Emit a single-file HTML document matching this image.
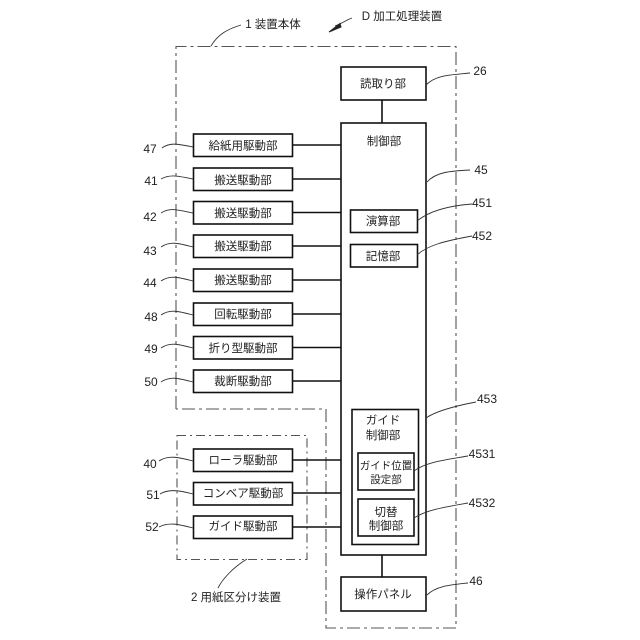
<!DOCTYPE html>
<html><head><meta charset="utf-8"><style>
html,body{margin:0;padding:0;background:#fff}
svg{display:block}
text{font-family:"Liberation Sans","Noto Sans CJK JP",sans-serif;font-size:11.5px;fill:#222;text-anchor:middle}
.n{font-size:12px}
.s{font-size:10.5px}
.b{fill:#fff;stroke:#111;stroke-width:1.6}
.l{fill:none;stroke:#111;stroke-width:1.6}
.c{fill:none;stroke:#333;stroke-width:.9}
</style></head><body>
<svg width="640" height="640" viewBox="0 0 640 640" xmlns="http://www.w3.org/2000/svg">
<path d="M176 409V46.500H456V628H326V409H176" fill="none" stroke="#555" stroke-width="1.100" stroke-dasharray="13 4 3 4"/>
<rect x="177" y="435.500" width="130" height="124" fill="none" stroke="#555" stroke-width="1.100" stroke-dasharray="9 4 2 4"/>
<path class="l" d="M292 145H341M292 179H341M292 212.500H341M292 246H341M292 280H341M292 314H341M292 347.500H341M292 381H341M292 460H341M292 493H341M292 527H341M382 100V123M382 555V577"/>
<rect class="b" x="341" y="67" width="85" height="33"/>
<rect class="b" x="341" y="123" width="85" height="432"/>
<rect class="b" x="341" y="577" width="85" height="34"/>
<rect class="b" x="193.500" y="134" width="99" height="22.500"/>
<rect class="b" x="193.500" y="168" width="99" height="22.500"/>
<rect class="b" x="193.500" y="201.500" width="99" height="22.500"/>
<rect class="b" x="193.500" y="235" width="99" height="22.500"/>
<rect class="b" x="193.500" y="269" width="99" height="22.500"/>
<rect class="b" x="193.500" y="303" width="99" height="22.500"/>
<rect class="b" x="193.500" y="336.500" width="99" height="22.500"/>
<rect class="b" x="193.500" y="370" width="99" height="22.500"/>
<rect class="b" x="193.500" y="449" width="99" height="22.500"/>
<rect class="b" x="193.500" y="482.500" width="99" height="22.500"/>
<rect class="b" x="193.500" y="516" width="99" height="22.500"/>
<rect class="b" x="350.500" y="210" width="67" height="22.500"/>
<rect class="b" x="350.500" y="244.500" width="67" height="22.500"/>
<rect class="b" x="352" y="409.500" width="66.500" height="135"/>
<rect class="b" x="358" y="453" width="56" height="37"/>
<rect class="b" x="358" y="499" width="56" height="37"/>
<text x="383" y="87.500">読取り部</text>
<text x="384" y="145">制御部</text>
<text x="243" y="149.500">給紙用駆動部</text>
<text x="243" y="184">搬送駆動部</text>
<text x="243" y="217">搬送駆動部</text>
<text x="243" y="250">搬送駆動部</text>
<text x="243" y="284">搬送駆動部</text>
<text x="243" y="318">回転駆動部</text>
<text x="243" y="352">折り型駆動部</text>
<text x="243" y="385">裁断駆動部</text>
<text x="243" y="464">ローラ駆動部</text>
<text x="243" y="497">コンベア駆動部</text>
<text x="243" y="530">ガイド駆動部</text>
<text x="383" y="225">演算部</text>
<text x="383" y="260">記憶部</text>
<text x="383" y="424">ガイド</text>
<text x="383" y="439">制御部</text>
<text class="s" x="386" y="469">ガイド位置</text>
<text class="s" x="386" y="483">設定部</text>
<text x="386" y="516">切替</text>
<text x="386" y="529.500">制御部</text>
<text x="383" y="598">操作パネル</text>
<text x="273" y="28">1 装置本体</text>
<text x="402" y="20">D 加工処理装置</text>
<text x="236" y="601">2 用紙区分け装置</text>
<text class="n" x="150" y="153">47</text>
<text class="n" x="151" y="185">41</text>
<text class="n" x="150" y="221">42</text>
<text class="n" x="150" y="255">43</text>
<text class="n" x="150" y="287">44</text>
<text class="n" x="151" y="321">48</text>
<text class="n" x="151" y="353">49</text>
<text class="n" x="151" y="386">50</text>
<text class="n" x="150" y="468">40</text>
<text class="n" x="153" y="499">51</text>
<text class="n" x="152" y="531">52</text>
<text class="n" x="480" y="75">26</text>
<text class="n" x="481" y="174">45</text>
<text class="n" x="482" y="207">451</text>
<text class="n" x="482" y="240">452</text>
<text class="n" x="487" y="403">453</text>
<text class="n" x="482" y="458">4531</text>
<text class="n" x="482" y="507">4532</text>
<text class="n" x="476" y="585">46</text>
<path class="c" d="M162 148C170 142 178 144 193 147M161 179C170 174 178 176 193 179M161 213C170 207 178 210 193 213M161 247C170 241 178 243 193 247M161 281C170 275 178 277 193 281M161 315C170 309 178 311 193 315M161 348C170 342 178 344 193 348M161 382C170 376 178 378 193 382M159 461C168 455 178 457 193 461M160 494C168 489 178 490 193 494M159 527C168 522 178 524 193 528"/>
<path class="c" d="M426 85C436 75 450 75 470 73M427 182C436 172 450 171 470 170M417 221C428 212 445 206 472 204M417 255C428 245 445 241 472 236M426 418C436 411 455 406 476 402M414 471C426 462 445 460 468 456M414 518C426 510 445 507 468 503M427 595C436 586 450 585 468 583"/>
<path class="c" d="M211 46C218 34 228 29 241 25M247 559C232 568 222 580 218 588"/>
<path class="c" d="M335 26C345 22 346 20 352 18"/>
<path d="M329 32L340 23.500L341 27Z" fill="#222" stroke="#222"/>
</svg>
</body></html>
